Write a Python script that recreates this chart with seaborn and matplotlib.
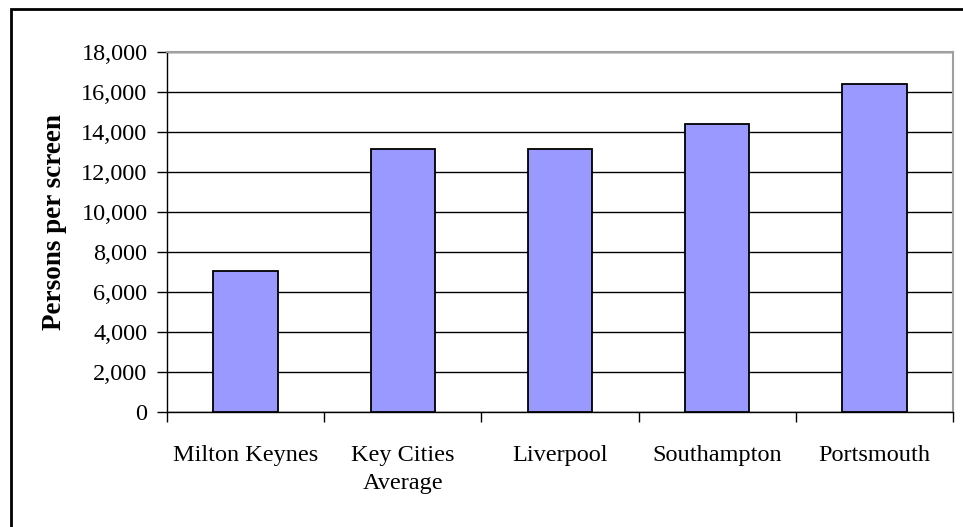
import matplotlib
matplotlib.use("Agg")
import matplotlib.pyplot as plt
import seaborn as sns
import pandas as pd
from matplotlib.patches import Rectangle
from matplotlib.ticker import FuncFormatter

categories = ["Milton Keynes", "Key Cities\nAverage", "Liverpool", "Southampton", "Portsmouth"]
values = [7050, 13150, 13150, 14400, 16400]
y_ticks = list(range(0, 18001, 2000))

sns.set_theme(style="white")
plt.rcParams["font.family"] = ["Liberation Serif", "DejaVu Serif"]

df = pd.DataFrame({"city": categories, "persons": values})

W, H = 963, 527
fig = plt.figure(figsize=(W / 100, H / 100), dpi=100)
ax = fig.add_axes([167 / W, 1 - 412 / H, (953 - 167) / W, (412 - 52) / H])

sns.barplot(data=df, x="city", y="persons", color="#9999FF", width=0.41,
            edgecolor="black", linewidth=1.3, saturation=1, ax=ax, zorder=3)

ax.set_ylim(0, 18000)
ax.set_xlim(-0.5, len(categories) - 0.5)
ax.set_yticks(y_ticks)
ax.yaxis.set_major_formatter(FuncFormatter(lambda v, p: f"{int(v):,}"))
ax.yaxis.grid(True, color="black", linewidth=1.0, zorder=0)
ax.set_axisbelow(True)

ax.set_xticks([i - 0.5 for i in range(len(categories) + 1)], minor=False)
ax.set_xticklabels([])
ax.set_xticks(range(len(categories)), minor=True)
ax.set_xticklabels(categories, minor=True, fontsize=17.5, linespacing=1.4)
ax.tick_params(axis="x", which="major", direction="out", length=7, width=1, color="black", bottom=True)
ax.tick_params(axis="x", which="minor", length=0, pad=24)
ax.tick_params(axis="y", direction="out", length=7, width=1, color="black", left=True, labelsize=17.5, pad=7)
for lbl in ax.get_yticklabels():
    lbl.set_color("black")
for lbl in ax.get_xticklabels(minor=True):
    lbl.set_color("black")

ax.set_xlabel("")
ax.set_ylabel("Persons per screen", fontsize=19.5, fontweight="bold", color="black")
ax.yaxis.set_label_coords((54 - 167) / (953 - 167), (412 - 222) / (412 - 52))
ax.yaxis.label.set_verticalalignment("center")

for s in ["left", "bottom"]:
    ax.spines[s].set_color("black")
    ax.spines[s].set_linewidth(1.0)
for s in ["top", "right"]:
    ax.spines[s].set_color("#A0A0A0")
    ax.spines[s].set_linewidth(1.5)
    ax.spines[s].set_visible(True)

fig.patches.append(Rectangle((11 / W, -0.05), 1.1, 1 - 9 / H + 0.05, transform=fig.transFigure,
                             fill=False, edgecolor="black", linewidth=2, clip_on=False))

fig.savefig("out.png", dpi=100, facecolor="white")
